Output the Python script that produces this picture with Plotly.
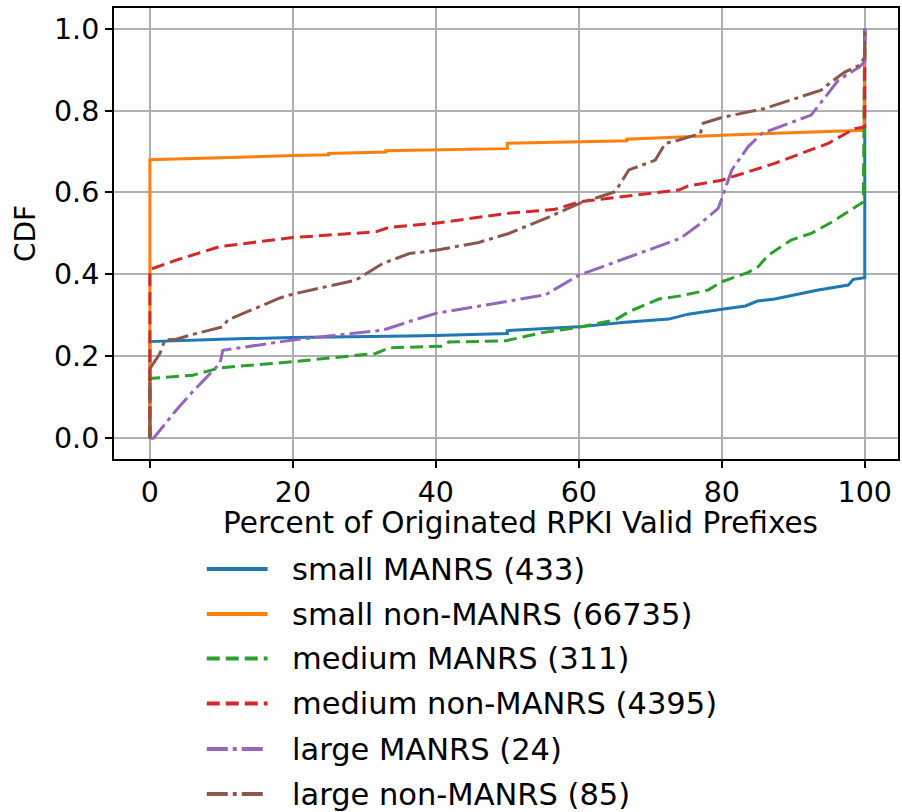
import plotly.graph_objects as go

# ---------------- data ----------------
names = ["small MANRS (433)", "small non-MANRS (66735)", "medium MANRS (311)",
         "medium non-MANRS (4395)", "large MANRS (24)", "large non-MANRS (85)"]
x_title = "Percent of Originated RPKI Valid Prefixes"
y_title = "CDF"

small_manrs_x = [0, 0, 10, 20, 36, 40, 50, 50, 60, 66.5, 72.6, 75.3, 80, 83.3, 85, 87.4, 93.5, 97.7, 98.4, 100, 100]
small_manrs_y = [0, 0.236, 0.242, 0.246, 0.25, 0.251, 0.256, 0.263, 0.272, 0.283, 0.291, 0.303, 0.315, 0.323,
                 0.335, 0.34, 0.362, 0.374, 0.388, 0.392, 1.0]

small_non_x = [0, 0, 20, 25, 25, 33, 33, 50, 50, 60, 66.7, 66.7, 80, 99.9, 100]
small_non_y = [0, 0.68, 0.69, 0.692, 0.695, 0.699, 0.702, 0.707, 0.72, 0.723, 0.726, 0.73, 0.74, 0.752, 1.0]

medium_manrs_x = [0, 0, 6, 9.8, 20, 31.6, 33.5, 40.9, 41.8, 49.8, 54.9, 60, 65.1, 67, 71.2, 74, 78.1, 80, 83.7,
                  85.1, 86.5, 89.7, 92.5, 95.5, 99.8, 100]
medium_manrs_y = [0, 0.146, 0.154, 0.172, 0.187, 0.207, 0.221, 0.225, 0.235, 0.238, 0.258, 0.271, 0.289, 0.309,
                  0.34, 0.347, 0.362, 0.382, 0.405, 0.419, 0.447, 0.484, 0.5, 0.529, 0.577, 1.0]

medium_non_x = [0, 0, 3.7, 9.8, 20, 31.6, 33.5, 40, 50, 56.7, 60, 70.2, 74, 75.3, 80, 87.4, 94.9, 98.6, 100, 100]
medium_non_y = [0, 0.412, 0.435, 0.468, 0.49, 0.504, 0.515, 0.525, 0.549, 0.559, 0.577, 0.598, 0.606, 0.616,
                0.63, 0.671, 0.72, 0.756, 0.76, 1.0]

large_manrs_x = [0, 0.5, 3.7, 6.0, 9.8, 10.2, 20, 32.6, 36.3, 40, 55.3, 60, 74.2, 76.7, 79.5, 81.4, 83.7, 85.6,
                 92.5, 95.3, 96.3, 99.3, 100, 100]
large_manrs_y = [0, 0.0, 0.069, 0.114, 0.183, 0.215, 0.24, 0.264, 0.285, 0.305, 0.35, 0.398, 0.488, 0.52, 0.561,
                 0.655, 0.712, 0.744, 0.789, 0.85, 0.874, 0.907, 0.92, 1.0]

large_non_x = [0, 0, 1.4, 2.1, 3.7, 6.5, 10.2, 10.9, 15.8, 18.1, 20, 28.8, 32.6, 36.3, 40, 46, 50.2, 55.8, 60,
               65.1, 67, 70.7, 72.1, 74, 77, 77.4, 80, 86, 93.9, 95.3, 97.2, 99.3, 100, 100]
large_non_y = [0, 0.17, 0.207, 0.24, 0.242, 0.256, 0.272, 0.289, 0.325, 0.342, 0.352, 0.386, 0.427, 0.451, 0.459,
               0.478, 0.5, 0.54, 0.573, 0.602, 0.655, 0.679, 0.72, 0.728, 0.744, 0.769, 0.783, 0.805, 0.85, 0.87,
               0.894, 0.911, 0.931, 1.0]

x_ticks = [0, 20, 40, 60, 80, 100]
y_ticks = [0.0, 0.2, 0.4, 0.6, 0.8, 1.0]
y_tick_text = ["0.0", "0.2", "0.4", "0.6", "0.8", "1.0"]

# ---------------- style ----------------
colors = ["#1f77b4", "#ff7f0e", "#2ca02c", "#d62728", "#9467bd", "#8c564b"]
DASHED = "13px,6px"
DASHDOT = "21px,5px,4px,5px"
dashes = ["solid", "solid", DASHED, DASHED, DASHDOT, DASHDOT]
LW = 3

series = [(small_manrs_x, small_manrs_y), (small_non_x, small_non_y),
          (medium_manrs_x, medium_manrs_y), (medium_non_x, medium_non_y),
          (large_manrs_x, large_manrs_y), (large_non_x, large_non_y)]

W, H = 902, 812
L, R, T, B = 114, 2, 8, 353
PW, PH = W - L - R, H - T - B

fig = go.Figure()
for (xs, ys), nm, c, d in zip(series, names, colors, dashes):
    fig.add_trace(go.Scatter(x=xs, y=ys, mode="lines", name=nm, showlegend=False,
                             line=dict(color=c, width=LW, dash=d)))


def px2paper_x(px):
    return (px - L) / PW


def px2paper_y(py):
    return (H - B - py) / PH


# manual legend (matplotlib style, below the axes)
leg_y = [569, 614, 658.5, 703.5, 749, 794]
shapes = []
annotations = []
for nm, c, d, yy in zip(names, colors, dashes, leg_y):
    shapes.append(dict(type="line", xref="paper", yref="paper",
                       x0=px2paper_x(207), x1=px2paper_x(268),
                       y0=px2paper_y(yy), y1=px2paper_y(yy),
                       line=dict(color=c, width=LW + 1, dash=d)))
    annotations.append(dict(xref="paper", yref="paper", x=px2paper_x(290), y=px2paper_y(yy),
                            text=nm, showarrow=False, xanchor="left", yanchor="middle",
                            font=dict(size=30.5, color="black", family="DejaVu Sans")))

# x-axis title (placed as in the reference)
annotations.append(dict(xref="paper", yref="paper", x=px2paper_x(522), y=px2paper_y(523),
                        text=x_title, showarrow=False, xanchor="center", yanchor="middle",
                        font=dict(size=29.5, color="black", family="DejaVu Sans")))

fig.update_layout(
    width=W, height=H,
    margin=dict(l=L, r=R, t=T, b=B, pad=0),
    plot_bgcolor="white", paper_bgcolor="white",
    font=dict(family="DejaVu Sans", size=28, color="black"),
    shapes=shapes, annotations=annotations,
    showlegend=False,
)
fig.update_xaxes(
    range=[-5.023, 104.65], tickvals=x_ticks, ticktext=[str(v) for v in x_ticks],
    showgrid=True, gridcolor="#b0b0b0", gridwidth=2, zeroline=False,
    showline=True, mirror=True, linecolor="black", linewidth=2,
    ticks="outside", ticklen=7, tickwidth=2, tickcolor="black",
    tickfont=dict(size=28.5),
)
fig.update_yaxes(
    range=[-0.0505, 1.0503], tickvals=y_ticks, ticktext=y_tick_text,
    showgrid=True, gridcolor="#b0b0b0", gridwidth=2, zeroline=False,
    showline=True, mirror=True, linecolor="black", linewidth=2,
    ticks="outside", ticklen=7, tickwidth=2, tickcolor="black",
    tickfont=dict(size=28.5),
    title=dict(text=y_title, font=dict(size=28), standoff=10),
)

fig.write_html("out.html")
